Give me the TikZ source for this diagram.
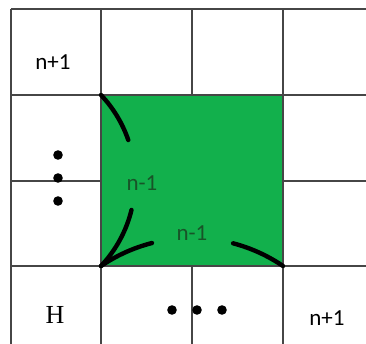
\documentclass[tikz,border=0pt]{standalone}
\usepackage{fontspec}
\setmainfont{Liberation Serif}
\newfontfamily\calib{Carlito}
\usepackage{xcolor}
\usepackage{tikz}
\usetikzlibrary{positioning, calc}

\definecolor{cellgreen}{RGB}{18,176,76}
\definecolor{labelgreen}{RGB}{24,84,40}
\definecolor{gridgray}{RGB}{70,70,70}

\begin{document}
\begin{tikzpicture}[
    x=0.5pt, y=0.5pt,
    gridline/.style={draw=gridgray, line width=1pt},
    bracearc/.style={draw=black, line width=2.2pt, line cap=round},
    celltext/.style={font=\calib\fontsize{11.5}{13}\selectfont, inner sep=0pt},
    innertext/.style={celltext, text=labelgreen},
    dot/.style={circle, fill=black, inner sep=0pt, minimum size=4.8pt}
]
\useasboundingbox (0,0) rectangle (366,344);

% --- corners of the shaded block ---
\coordinate (tl) at (101,249);
\coordinate (tr) at (283,249);
\coordinate (bl) at (101,78);
\coordinate (br) at (283,78);

% --- grid ---
\foreach \gx in {11,101,192,283}
    \draw[gridline] (\gx,335) -- (\gx,-5);
\foreach \gy in {335,249,163,78}
    \draw[gridline] (11,\gy) -- (370,\gy);

% --- shaded block ---
\fill[cellgreen] (bl) rectangle (tr);
\draw[gridline] (bl) rectangle (tr);

% --- arcs marking the sides ---
\draw[bracearc] (tl) arc[start angle=43.4, end angle=19, radius=124.5];
\draw[bracearc] (bl) arc[start angle=-43.4, end angle=-13.7, radius=124.5];
\draw[bracearc] (bl) arc[start angle=124.2, end angle=104.3, radius=161.9];
\draw[bracearc] (br) arc[start angle=55.8, end angle=75.3, radius=161.9];

% --- labels ---
\node[celltext] (top) at (53,282) {n+1};
\node[celltext] (corner) at (327,26) {n+1};
\node[font=\fontsize{13}{15}\selectfont, inner sep=0pt] (hcell) at (55,29) {H};
\node[innertext] (sidel) at (142,161) {n-1};
\node[innertext] (sideb) at (192,111) {n-1};

% --- dots ---
\node[dot] (vd1) at (58,189) {};
\node[dot, below=11.5pt of vd1.center, anchor=center] (vd2) {};
\node[dot, below=11.5pt of vd2.center, anchor=center] (vd3) {};
\node[dot] (hd1) at (172,34) {};
\node[dot, right=12.5pt of hd1.center, anchor=center] (hd2) {};
\node[dot, right=12.5pt of hd2.center, anchor=center] (hd3) {};

\end{tikzpicture}
\end{document}
